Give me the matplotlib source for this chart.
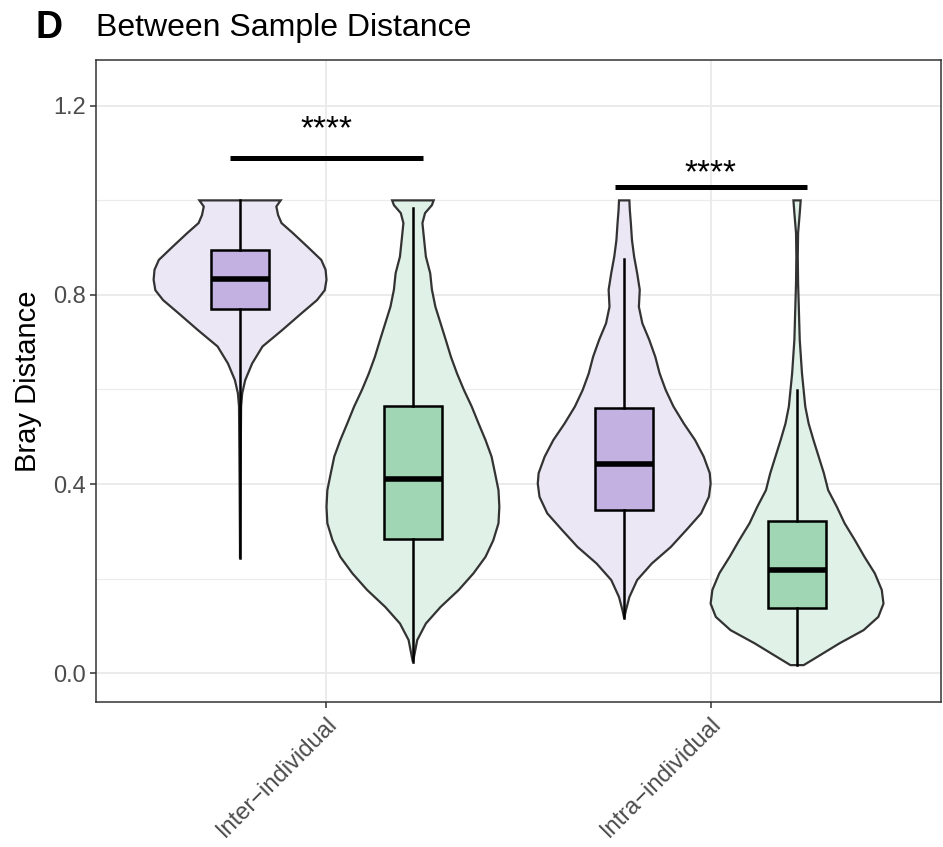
import matplotlib
matplotlib.use("Agg")
import matplotlib.pyplot as plt
import numpy as np

plt.rcParams['font.family'] = ['Liberation Sans', 'DejaVu Sans']

groups = ["Inter\u2212individual", "Intra\u2212individual"]

# violin outlines: y value, relative half width (1 = widest)
inter_a_y = [1.0, 0.987, 0.969, 0.952, 0.931, 0.902, 0.874, 0.853, 0.832, 0.810, 0.789,
             0.761, 0.726, 0.691, 0.655, 0.620, 0.592, 0.564, 0.40, 0.243]
inter_a_w = [0.47, 0.42, 0.44, 0.48, 0.61, 0.78, 0.94, 0.99, 1.0, 0.98, 0.89,
             0.71, 0.49, 0.26, 0.14, 0.06, 0.025, 0.012, 0.005, 0.0]

inter_b_y = [1.0, 0.990, 0.973, 0.952, 0.916, 0.881, 0.846, 0.811, 0.775, 0.740, 0.705,
             0.669, 0.634, 0.599, 0.564, 0.528, 0.493, 0.458, 0.423, 0.387, 0.352,
             0.317, 0.281, 0.246, 0.211, 0.176, 0.140, 0.105, 0.070, 0.034, 0.024]
inter_b_w = [0.24, 0.22, 0.14, 0.11, 0.13, 0.15, 0.20, 0.22, 0.26, 0.32, 0.38,
             0.44, 0.51, 0.59, 0.68, 0.76, 0.84, 0.91, 0.95, 0.99, 1.0,
             0.99, 0.93, 0.84, 0.70, 0.53, 0.32, 0.15, 0.05, 0.012, 0.0]

intra_a_y = [1.0, 0.980, 0.952, 0.916, 0.881, 0.846, 0.811, 0.775, 0.740, 0.705, 0.669,
             0.634, 0.599, 0.564, 0.528, 0.493, 0.458, 0.423, 0.401, 0.373, 0.338,
             0.303, 0.267, 0.232, 0.197, 0.161, 0.133, 0.116]
intra_a_w = [0.06, 0.065, 0.077, 0.09, 0.115, 0.15, 0.18, 0.17, 0.21, 0.29, 0.36,
             0.41, 0.48, 0.57, 0.69, 0.82, 0.92, 0.99, 1.0, 0.98, 0.89,
             0.72, 0.54, 0.32, 0.15, 0.06, 0.02, 0.0]

intra_b_y = [1.0, 0.973, 0.931, 0.881, 0.825, 0.775, 0.705, 0.634, 0.564, 0.528, 0.493,
             0.458, 0.423, 0.387, 0.352, 0.317, 0.281, 0.246, 0.211, 0.176, 0.147,
             0.119, 0.091, 0.063, 0.034, 0.017]
intra_b_w = [0.042, 0.031, 0.012, 0.008, 0.012, 0.02, 0.031, 0.057, 0.095, 0.134, 0.19,
             0.25, 0.31, 0.36, 0.46, 0.55, 0.67, 0.78, 0.90, 0.98, 1.0,
             0.94, 0.77, 0.49, 0.23, 0.077]

# box stats: whisker low, q1, median, q3, whisker high
box_inter_a = [0.243, 0.770, 0.833, 0.895, 1.0]
box_inter_b = [0.024, 0.284, 0.411, 0.565, 0.983]
box_intra_a = [0.116, 0.346, 0.442, 0.560, 0.875]
box_intra_b = [0.017, 0.137, 0.218, 0.322, 0.598]

# significance brackets: y of bar, y of label
sig_y = [1.09, 1.028]
sig_text_y = [1.150, 1.057]
sig_label = "****"

violin_fill = ["#EBE7F5", "#E0F1E7"]
box_fill = ["#C3B1E1", "#A0D6B4"]

fig = plt.figure(figsize=(9.43, 8.47), dpi=100)
ax = fig.add_axes([0.1018, 0.1712, 0.8962, 0.758])

dodge = 0.225
vw = 0.225
violins = [(1 - dodge, inter_a_y, inter_a_w, 0), (1 + dodge, inter_b_y, inter_b_w, 1),
           (2 - dodge, intra_a_y, intra_a_w, 0), (2 + dodge, intra_b_y, intra_b_w, 1)]
for cx, ys, ws, k in violins:
    ys = np.array(ys)
    ws = np.array(ws) * vw
    px = np.concatenate([cx - ws, (cx + ws)[::-1]])
    py = np.concatenate([ys, ys[::-1]])
    ax.fill(px, py, facecolor=violin_fill[k], edgecolor="#333333", linewidth=1.6, zorder=2)

stats = []
for b in [box_inter_a, box_inter_b, box_intra_a, box_intra_b]:
    stats.append(dict(whislo=b[0], q1=b[1], med=b[2], q3=b[3], whishi=b[4], fliers=[]))
positions = [1 - dodge, 1 + dodge, 2 - dodge, 2 + dodge]
bp = ax.bxp(stats, positions=positions, widths=0.152, patch_artist=True, showcaps=False,
            showfliers=False, manage_ticks=False,
            boxprops=dict(edgecolor="black", linewidth=1.8),
            whiskerprops=dict(color="black", linewidth=1.8),
            medianprops=dict(color="black", linewidth=4.0, solid_capstyle="butt"),
            zorder=3)
for i, patch in enumerate(bp["boxes"]):
    patch.set_facecolor(box_fill[i % 2])

for g in range(2):
    ax.plot([g + 1 - 0.25, g + 1 + 0.25], [sig_y[g], sig_y[g]], color="black",
            linewidth=3.6, solid_capstyle="butt", zorder=4)
    ax.text(g + 1, sig_text_y[g], sig_label, ha="center", va="center", fontsize=24, zorder=4)

ax.set_xlim(0.4, 2.6)
ax.set_ylim(-0.061, 1.297)
ax.set_xticks([1, 2])
ax.set_xticklabels(groups, rotation=45, ha="right", va="top", rotation_mode="anchor",
                   fontsize=17, color="#4D4D4D")
ax.set_yticks([0.0, 0.4, 0.8, 1.2])
ax.set_yticklabels(["0.0", "0.4", "0.8", "1.2"], fontsize=17, color="#4D4D4D")
ax.set_yticks([0.2, 0.6, 1.0], minor=True)
ax.grid(True, which="major", color="#EBEBEB", linewidth=1.4, zorder=0)
ax.grid(True, which="minor", axis="y", color="#EBEBEB", linewidth=0.8, zorder=0)
ax.set_axisbelow(True)
ax.tick_params(axis="both", which="major", length=4, width=1.1, color="#333333", pad=3)
ax.tick_params(axis="x", which="major", pad=4)
ax.tick_params(axis="y", which="minor", length=0)
for s in ax.spines.values():
    s.set_color("#333333")
    s.set_linewidth(1.1)
ax.set_ylabel("Bray Distance", fontsize=21, labelpad=8)

fig.text(0.038, 0.967, "D", fontsize=27, fontweight="bold", va="center", ha="left")
fig.text(0.102, 0.967, "Between Sample Distance", fontsize=23, va="center", ha="left")

fig.savefig("out.png", dpi=100)
